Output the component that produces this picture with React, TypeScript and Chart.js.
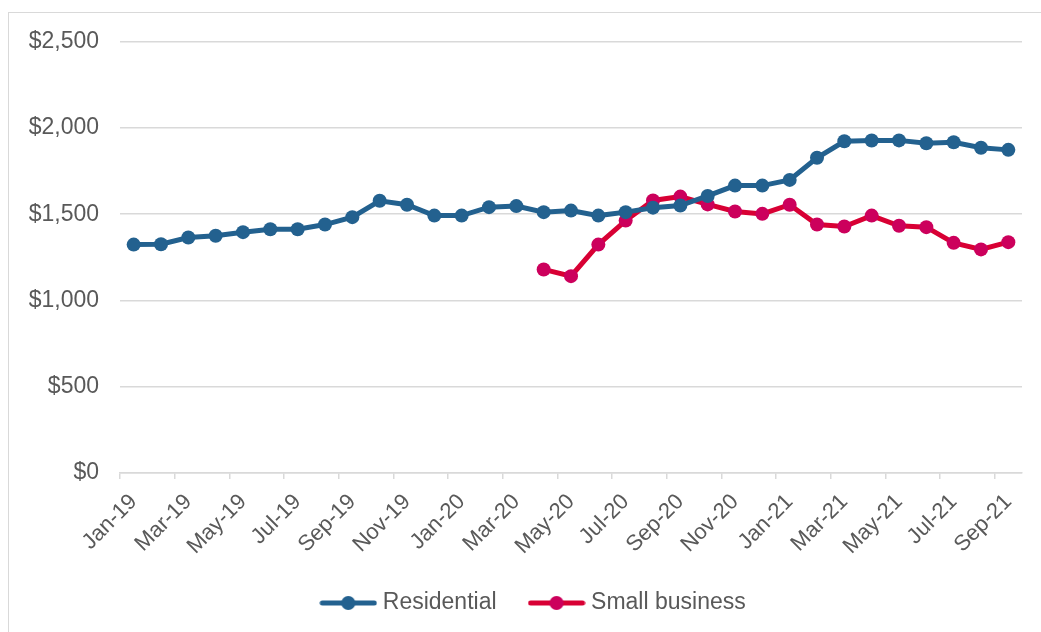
import React, { useEffect, useRef } from "react";
import { Chart, registerables } from "chart.js";

Chart.register(...registerables);

const months: string[] = [
  "Jan-19", "Feb-19", "Mar-19", "Apr-19", "May-19", "Jun-19", "Jul-19", "Aug-19", "Sep-19", "Oct-19", "Nov-19", "Dec-19",
  "Jan-20", "Feb-20", "Mar-20", "Apr-20", "May-20", "Jun-20", "Jul-20", "Aug-20", "Sep-20", "Oct-20", "Nov-20", "Dec-20",
  "Jan-21", "Feb-21", "Mar-21", "Apr-21", "May-21", "Jun-21", "Jul-21", "Aug-21", "Sep-21",
];

const residential: number[] = [
  1324, 1326, 1365, 1375, 1396, 1413, 1413, 1440, 1483, 1578, 1555, 1492,
  1492, 1541, 1547, 1512, 1521, 1492, 1512, 1538, 1550, 1606, 1666, 1666,
  1699, 1827, 1923, 1927, 1928, 1911, 1917, 1885, 1873,
];

const smallBusiness: (number | null)[] = [
  null, null, null, null, null, null, null, null, null, null, null, null,
  null, null, null, 1180, 1141, 1324, 1463, 1580, 1602, 1557, 1516, 1502,
  1555, 1440, 1429, 1492, 1433, 1425, 1334, 1296, 1338,
];

const yTicks: number[] = [0, 500, 1000, 1500, 2000, 2500];

const seriesNames: string[] = ["Residential", "Small business"];

const BLUE = "#23618F";
const RED_LINE = "#D80034";
const RED_POINT = "#CC005C";
const TEXT = "#595959";
const GRID = "#D9D9D9";
const FONT = "'Liberation Sans', Arial, sans-serif";

function legendIcon(line: string, point: string): HTMLCanvasElement {
  const c = document.createElement("canvas");
  c.width = 58;
  c.height = 16;
  const ctx = c.getContext("2d")!;
  ctx.strokeStyle = line;
  ctx.lineWidth = 5;
  ctx.lineCap = "round";
  ctx.beginPath();
  ctx.moveTo(3, 8);
  ctx.lineTo(55, 8);
  ctx.stroke();
  ctx.fillStyle = point;
  ctx.beginPath();
  ctx.arc(29, 8, 7, 0, Math.PI * 2);
  ctx.fill();
  return c;
}

const legendShift = {
  id: "legendShift",
  afterLayout(chart: any) {
    const lg = chart.legend;
    if (lg) {
      lg.left += 20;
      lg.right += 20;
      lg.top -= 6.5;
      lg.bottom -= 6.5;
    }
  },
};

export default function App() {
  const ref = useRef<HTMLCanvasElement | null>(null);

  useEffect(() => {
    document.body.style.overflow = "hidden";
    const canvas = ref.current;
    if (!canvas) return;
    const icons = [legendIcon(BLUE, BLUE), legendIcon(RED_LINE, RED_POINT)];
    const chart = new Chart(canvas, {
      type: "line",
      data: {
        labels: months,
        datasets: [
          {
            label: seriesNames[0],
            data: residential,
            borderColor: BLUE,
            backgroundColor: BLUE,
            pointBackgroundColor: BLUE,
            pointBorderColor: BLUE,
            borderWidth: 5,
            pointRadius: 7,
            pointHoverRadius: 7,
            pointBorderWidth: 0,
            tension: 0,
          },
          {
            label: seriesNames[1],
            data: smallBusiness,
            borderColor: RED_LINE,
            backgroundColor: RED_POINT,
            pointBackgroundColor: RED_POINT,
            pointBorderColor: RED_POINT,
            borderWidth: 5,
            pointRadius: 7,
            pointHoverRadius: 7,
            pointBorderWidth: 0,
            tension: 0,
          },
        ],
      },
      plugins: [legendShift],
      options: {
        responsive: false,
        animation: false,
        layout: { padding: { left: 0, right: 19, top: 28.7, bottom: 0 } },
        plugins: {
          tooltip: { enabled: false },
          legend: {
            display: true,
            position: "bottom",
            labels: {
              usePointStyle: true,
              pointStyleWidth: 46,
              padding: 37,
              color: TEXT,
              font: { family: FONT, size: 23 },
              generateLabels: (ch: any) =>
                ch.data.datasets.map((ds: any, i: number) => ({
                  text: ds.label,
                  fillStyle: ds.backgroundColor,
                  strokeStyle: ds.borderColor,
                  lineWidth: 0,
                  pointStyle: icons[i],
                  hidden: false,
                  datasetIndex: i,
                  fontColor: TEXT,
                })),
            },
          },
        },
        scales: {
          x: {
            type: "category",
            offset: true,
            grid: {
              display: true,
              offset: true,
              drawOnChartArea: false,
              drawTicks: true,
              tickLength: 6,
              lineWidth: 1.5,
              color: (ctx: any) => (ctx.index % 2 === 0 ? GRID : "rgba(0,0,0,0)"),
            },
            border: { display: true, color: GRID, width: 1.5 },
            ticks: {
              autoSkip: false,
              minRotation: 45,
              maxRotation: 45,
              padding: 10,
              color: TEXT,
              font: { family: FONT, size: 22 },
              callback: (_v: any, i: number) => (i % 2 === 0 ? months[i] : ""),
            },
            afterFit: (scale: any) => {
              scale.height = 88;
            },
          },
          y: {
            min: yTicks[0],
            max: yTicks[yTicks.length - 1],
            afterBuildTicks: (scale: any) => {
              scale.ticks = yTicks.map((v) => ({ value: v }));
            },
            grid: { color: GRID, lineWidth: 1.5, drawTicks: false },
            border: { display: false },
            ticks: {
              padding: 21,
              color: TEXT,
              font: { family: FONT, size: 23 },
              callback: (v: any) => "$" + Number(v).toLocaleString("en-US"),
            },
            afterFit: (scale: any) => {
              scale.width = 111;
              scale.paddingTop = 0;
              scale.paddingBottom = 0;
            },
          },
        },
      },
    });
    return () => chart.destroy();
  }, []);

  return (
    <div
      style={{
        position: "absolute",
        left: 8,
        top: 12,
        width: 1033,
        height: 620,
        borderTop: "1px solid #D9D9D9",
        borderLeft: "1px solid #D9D9D9",
        overflow: "hidden",
        background: "#FFFFFF",
      }}
    >
      <canvas ref={ref} width={1032} height={618} style={{ display: "block" }} />
    </div>
  );
}
